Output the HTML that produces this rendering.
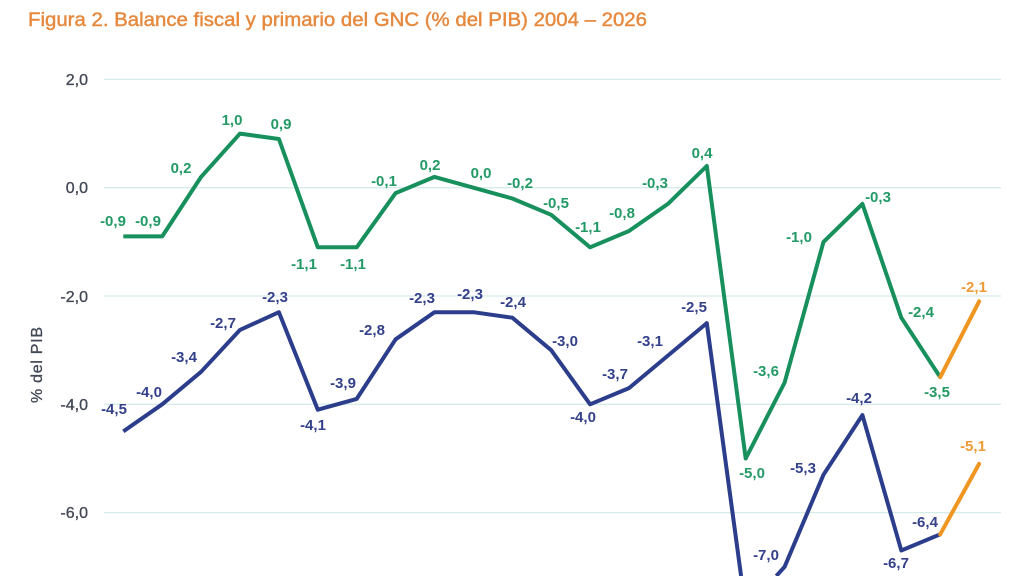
<!DOCTYPE html>
<html><head><meta charset="utf-8"><style>
html,body{margin:0;padding:0;background:#fff;width:1024px;height:576px;overflow:hidden;}
svg{display:block;overflow:hidden;}
text{font-family:"Liberation Sans",sans-serif;}
.g{fill:#239a66;font-weight:bold;font-size:15px;text-anchor:middle;}
.b{fill:#34418a;font-weight:bold;font-size:15px;text-anchor:middle;}
.o{fill:#ee9a35;font-weight:bold;font-size:15px;text-anchor:middle;}
.t{fill:#434856;font-size:16px;text-anchor:end;stroke:#434856;stroke-width:0.35;}
</style></head><body>
<svg width="1024" height="576" viewBox="0 0 1024 576" xmlns="http://www.w3.org/2000/svg">
<rect width="1024" height="576" fill="#fff"/>
<text x="28" y="26" font-size="19.5" fill="#e6893e" stroke="#e6893e" stroke-width="0.45" textLength="619" lengthAdjust="spacingAndGlyphs">Figura 2. Balance fiscal y primario del GNC (% del PIB) 2004 – 2026</text>
<g stroke="#d6ecea" stroke-width="1.3">
<line x1="104" y1="79.4" x2="1001" y2="79.4"/>
<line x1="104" y1="187.7" x2="1001" y2="187.7"/>
<line x1="104" y1="296" x2="1001" y2="296"/>
<line x1="104" y1="404.3" x2="1001" y2="404.3"/>
<line x1="104" y1="512.6" x2="1001" y2="512.6"/>
</g>
<text class="t" x="88" y="85">2,0</text>
<text class="t" x="88" y="193">0,0</text>
<text class="t" x="88" y="302">-2,0</text>
<text class="t" x="88" y="410">-4,0</text>
<text class="t" x="88" y="518">-6,0</text>
<text x="0" y="0" font-size="16" fill="#434856" stroke="#434856" stroke-width="0.3" text-anchor="middle" textLength="76" transform="translate(42,365) rotate(-90)">% del PIB</text>
<polyline fill="none" stroke="#17905d" stroke-width="4" stroke-linejoin="round" points="123.3,236.4 162.2,236.4 201.1,176.9 240,133.6 278.9,139 317.8,247.3 356.7,247.3 395.6,193.1 434.5,176.9 473.4,187.7 512.3,198.5 551.2,214.8 590.1,247.3 629,231 667.9,203.9 706.8,166 745.7,458.5 784.6,382.6 823.5,241.9 862.4,203.9 901.3,317.7 940.2,377.2"/>
<line x1="940.2" y1="377.2" x2="979.1" y2="301.4" stroke="#ef9622" stroke-width="4" stroke-linecap="round"/>
<polyline fill="none" stroke="#2c3d8c" stroke-width="4" stroke-linejoin="round" points="123.3,431.4 162.2,404.3 201.1,371.8 240,329.9 278.9,312.2 317.8,409.7 356.7,398.9 395.6,339.3 434.5,312.2 473.4,312.2 512.3,317.7 551.2,350.2 590.1,404.3 629,388.1 667.9,355.6 706.8,323.1 741.1,576"/>
<polyline fill="none" stroke="#2c3d8c" stroke-width="4" stroke-linejoin="round" points="776.3,576 784.6,566.8 823.5,474.7 862.4,415.1 901.3,550.5 940.2,534.3"/>
<line x1="940.2" y1="534.3" x2="979.1" y2="463.9" stroke="#ef9622" stroke-width="4" stroke-linecap="round"/>
<!-- green labels -->
<text class="g" x="113" y="226">-0,9</text>
<text class="g" x="148" y="226">-0,9</text>
<text class="g" x="181" y="173">0,2</text>
<text class="g" x="232" y="125">1,0</text>
<text class="g" x="281" y="129">0,9</text>
<text class="g" x="304" y="269">-1,1</text>
<text class="g" x="353" y="269">-1,1</text>
<text class="g" x="384" y="186">-0,1</text>
<text class="g" x="430" y="170">0,2</text>
<text class="g" x="481" y="178">0,0</text>
<text class="g" x="520" y="188">-0,2</text>
<text class="g" x="556" y="208">-0,5</text>
<text class="g" x="588" y="232">-1,1</text>
<text class="g" x="622" y="218">-0,8</text>
<text class="g" x="655" y="188">-0,3</text>
<text class="g" x="702" y="158">0,4</text>
<text class="g" x="752" y="478">-5,0</text>
<text class="g" x="766" y="376">-3,6</text>
<text class="g" x="799" y="242">-1,0</text>
<text class="g" x="878" y="202">-0,3</text>
<text class="g" x="921" y="317">-2,4</text>
<text class="g" x="937" y="397">-3,5</text>
<text class="o" x="974" y="292">-2,1</text>
<!-- blue labels -->
<text class="b" x="114" y="414">-4,5</text>
<text class="b" x="149" y="397">-4,0</text>
<text class="b" x="184" y="362">-3,4</text>
<text class="b" x="223" y="328">-2,7</text>
<text class="b" x="275" y="302">-2,3</text>
<text class="b" x="313" y="430">-4,1</text>
<text class="b" x="343" y="388">-3,9</text>
<text class="b" x="372" y="335">-2,8</text>
<text class="b" x="422" y="303">-2,3</text>
<text class="b" x="470" y="299">-2,3</text>
<text class="b" x="513" y="307">-2,4</text>
<text class="b" x="565" y="346">-3,0</text>
<text class="b" x="583" y="422">-4,0</text>
<text class="b" x="615" y="379">-3,7</text>
<text class="b" x="650" y="346">-3,1</text>
<text class="b" x="694" y="312">-2,5</text>
<text class="b" x="766" y="560">-7,0</text>
<text class="b" x="803" y="473">-5,3</text>
<text class="b" x="859" y="403">-4,2</text>
<text class="b" x="896" y="568">-6,7</text>
<text class="b" x="925" y="527">-6,4</text>
<text class="o" x="973" y="451">-5,1</text>
</svg>
</body></html>
